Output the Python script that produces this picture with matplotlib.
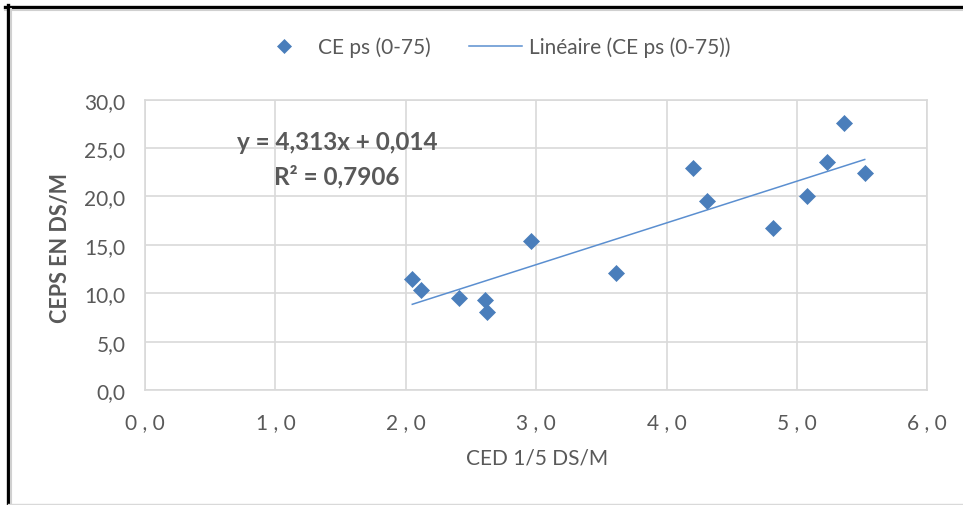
import matplotlib
matplotlib.use("Agg")
import matplotlib.pyplot as plt
from matplotlib.lines import Line2D
from matplotlib.ticker import FixedLocator, FixedFormatter
import numpy as np

# ---- data ----
ced = [2.05, 2.12, 2.41, 2.61, 2.62, 2.96, 3.61, 4.20, 4.31, 4.82, 5.08, 5.23, 5.36, 5.52]
ceps = [11.5, 10.3, 9.5, 9.3, 8.1, 15.4, 12.1, 22.9, 19.5, 16.7, 20.0, 23.6, 27.6, 22.4]
trend_slope = 4.313
trend_intercept = 0.014
x_ticks = [0, 1, 2, 3, 4, 5, 6]
x_tick_labels = ["0 , 0", "1 , 0", "2 , 0", "3 , 0", "4 , 0", "5 , 0", "6 , 0"]
y_ticks = [0, 5, 10, 15, 20, 25, 30]
y_tick_labels = ["0,0", "5,0", "10,0", "15,0", "20,0", "25,0", "30,0"]
series_label = "CE ps (0-75)"
trend_label = "Linéaire (CE ps (0-75))"
eq_line1 = "y = 4,313x + 0,014"
eq_line2 = "R² = 0,7906"
x_title = "CED 1/5 DS/M"
y_title = "CEPS EN DS/M"

plt.rcParams['font.family'] = ['Lato', 'DejaVu Sans']
TXT = "#595959"
GRID = "#d9d9d9"
MARK = "#4a7ebb"
LINE = "#5b8fd0"

W, H = 963, 506
fig = plt.figure(figsize=(W / 100, H / 100), dpi=100)
fig.patch.set_facecolor("white")

L, R, T, B = 145, 927.3, 100.7, 391
ax = fig.add_axes([L / W, 1 - B / H, (R - L) / W, (B - T) / H])
ax.set_xlim(0, 6)
ax.set_ylim(0, 30)

ax.xaxis.set_major_locator(FixedLocator(x_ticks))
ax.xaxis.set_major_formatter(FixedFormatter(x_tick_labels))
ax.yaxis.set_major_locator(FixedLocator(y_ticks))
ax.yaxis.set_major_formatter(FixedFormatter(y_tick_labels))
ax.tick_params(axis='both', length=0, labelcolor=TXT, labelsize=15)
ax.tick_params(axis='x', pad=16)
ax.tick_params(axis='y', pad=14)
ax.grid(True, color=GRID, lw=1.2)
ax.set_axisbelow(True)
for s in ax.spines.values():
    s.set_color(GRID)
    s.set_linewidth(1.2)

# scatter series
ax.plot(ced, ceps, ls='none', marker='D', markersize=8.6, color=MARK,
        markeredgecolor=MARK, markeredgewidth=0.5, label=series_label, zorder=3)

# linear trend line
xs = np.array([min(ced), max(ced)])
ax.plot(xs, trend_slope * xs + trend_intercept, color=LINE, lw=1.1,
        label=trend_label, zorder=2)

# equation text
fig.text(337 / W, 1 - 143 / H, eq_line1, ha='center', va='center',
         fontsize=17.5, fontweight='bold', color=TXT)
fig.text(337 / W, 1 - 177 / H, eq_line2, ha='center', va='center',
         fontsize=17.5, fontweight='bold', color=TXT)

# axis titles
fig.text(537 / W, 1 - 459 / H, x_title, ha='center', va='center',
         fontsize=15, color=TXT)
fig.text(60 / W, 1 - 248 / H, y_title, ha='center', va='center',
         rotation=90, fontsize=15.5, fontweight='bold', color=TXT)

# legend
fig.legend(loc='center', bbox_to_anchor=(494 / W, 1 - 48 / H), ncol=2,
           frameon=False, fontsize=15, labelcolor=TXT, numpoints=1,
           handlelength=2.55, handletextpad=0.34, columnspacing=1.83,
           markerscale=0.88, borderpad=0)

# outer frame (black top & left edges, faint bottom)
fig.add_artist(Line2D([5 / W, 1], [1 - 7.5 / H, 1 - 7.5 / H], color='black', lw=2.4))
fig.add_artist(Line2D([5 / W, 1], [1 - 10.5 / H, 1 - 10.5 / H], color='#d0d0d0', lw=1.5))
fig.add_artist(Line2D([8 / W, 8 / W], [0, 1 - 6 / H], color='black', lw=2.4))
fig.add_artist(Line2D([11 / W, 11 / W], [0, 1 - 10 / H], color='#d0d0d0', lw=1.5))
fig.add_artist(Line2D([8 / W, 1], [1 - 505 / H, 1 - 505 / H], color='#d9d9d9', lw=1))

fig.savefig("out.png", dpi=100)
